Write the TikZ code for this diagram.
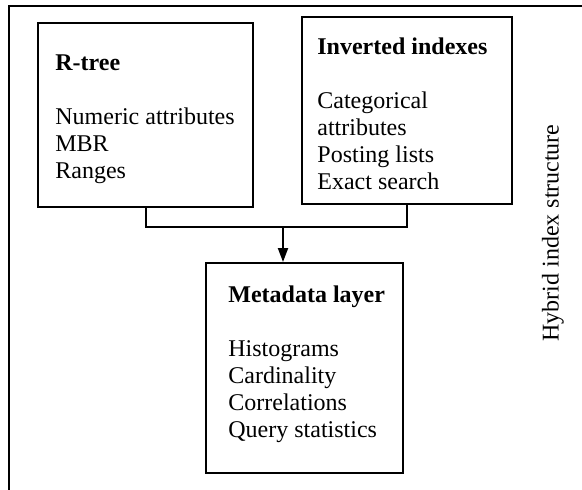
\documentclass[tikz,border=0pt]{standalone}
\usepackage{fontspec}
\setmainfont{Liberation Serif}
\usepackage{tikz}
\usetikzlibrary{arrows.meta,positioning,calc}

\begin{document}
\begin{tikzpicture}[x=0.5pt, y=-0.5pt,
    layerbox/.style={draw, line width=1pt, inner sep=0pt},
    boxtext/.style={anchor=north west, inner sep=0pt, align=left,
        font=\fontsize{12}{13.5}\selectfont}]
    \useasboundingbox (0,0) rectangle (582,489);
    \clip (0,0) rectangle (582,489);

    % Outer frame
    \draw[line width=1pt] (9,6) rectangle (620,520);

    % Index boxes
    \node[layerbox, minimum width=107.5pt, minimum height=92pt] (rtree) at (145.5,115) {};
    \node[layerbox, minimum width=105pt, minimum height=93.5pt] (invidx) at (407,110.5) {};
    \node[layerbox, minimum width=98.5pt, minimum height=105pt] (meta) at (304.5,368) {};

    \node[boxtext] (rtreetxt) at (55,51) {\strut\textbf{R-tree}\\[13.5pt]
        Numeric attributes\\MBR\\Ranges};
    \node[boxtext] (invtxt) at (317,35) {\strut\textbf{Inverted indexes}\\[13.5pt]
        Categorical\\attributes\\Posting lists\\Exact search};
    \node[boxtext] (metatxt) at (228,283) {\strut\textbf{Metadata layer}\\[13.5pt]
        Histograms\\Cardinality\\Correlations\\Query statistics};

    % Side label
    \node[rotate=90, font=\fontsize{12}{13.5}\selectfont] (hybrid) at (553,233) {Hybrid index structure};

    % Connectors
    \coordinate (join) at (283,227);
    \draw[line width=1pt] (rtree.south) |- (join) -| (invidx.south);
    \draw[line width=1pt, -{Triangle[length=7pt,width=5pt]}] (join) -- (join |- meta.north);
\end{tikzpicture}
\end{document}
